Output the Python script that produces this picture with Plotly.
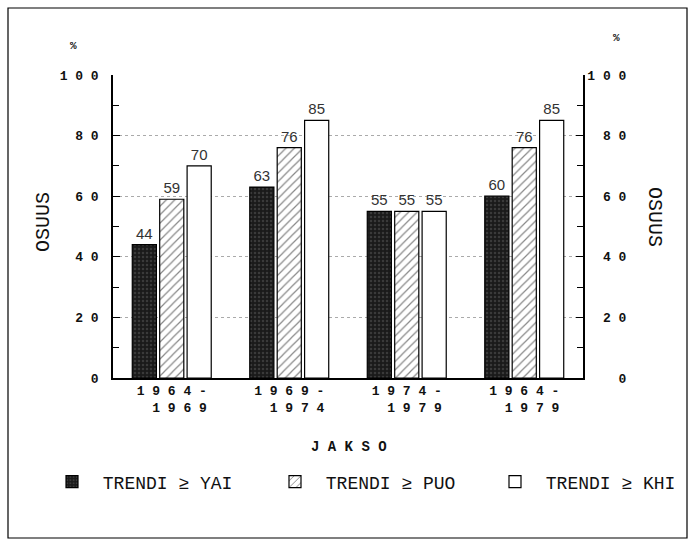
import plotly.graph_objects as go

categories = ["1964-1969", "1969-1974", "1974-1979", "1964-1979"]
tick_labels = ["1 9 6 4 -<br>\u00a0\u00a01 9 6 9", "1 9 6 9 -<br>\u00a0\u00a01 9 7 4",
               "1 9 7 4 -<br>\u00a0\u00a01 9 7 9", "1 9 6 4 -<br>\u00a0\u00a01 9 7 9"]
series_names = ["TRENDI \u2265 YAI", "TRENDI \u2265 PUO", "TRENDI \u2265 KHI"]
yai = [44, 63, 55, 60]
puo = [59, 76, 55, 76]
khi = [70, 85, 55, 85]
y_ticks = [0, 20, 40, 60, 80, 100]
y_left_text = ["0", "2 0", "4 0", "6 0", "8 0", "1 0 0"]
y_right_text = ["\u00a0\u00a0\u00a0\u00a00", "\u00a0\u00a02 0", "\u00a0\u00a04 0",
                "\u00a0\u00a06 0", "\u00a0\u00a08 0", "1 0 0"]

W, H = 691, 542
L, R, T, B = 113, 108, 75, 164
pw, ph = W - L - R, H - T - B

def px(x):
    return (x - L) / pw

def py(y):
    return (H - B - y) / ph

mono = "Liberation Mono"
fig = go.Figure()
fig.add_trace(go.Bar(
    x=categories, y=yai, name="\u00a0" + series_names[0], text=yai, textposition="outside",
    legend="legend",
    marker=dict(color="#1a1a1a", line=dict(color="black", width=1.2),
                pattern=dict(shape=".", fgcolor="#5a5a5a", bgcolor="#1a1a1a", size=4, solidity=0.3)),
))
fig.add_trace(go.Bar(
    x=categories, y=puo, name="\u00a0" + series_names[1], text=puo, textposition="outside",
    legend="legend2",
    marker=dict(color="white", line=dict(color="black", width=1.2),
                pattern=dict(shape="/", fgcolor="#111", bgcolor="white", size=6, solidity=0.2)),
))
fig.add_trace(go.Bar(
    x=categories, y=khi, name="\u00a0" + series_names[2], text=khi, textposition="outside",
    legend="legend3",
    marker=dict(color="white", line=dict(color="black", width=1.2)),
))
fig.update_traces(textfont=dict(family="Liberation Sans", size=15, color="#333"),
                  cliponaxis=False)
# invisible helper so that the right-hand axis is drawn
fig.add_trace(go.Scatter(x=categories, y=khi, yaxis="y2", mode="markers",
                         marker=dict(opacity=0), showlegend=False, hoverinfo="skip"))

legend_common = dict(orientation="h", yanchor="middle", xanchor="left", y=py(482),
                     font=dict(family=mono, size=18, color="#111"),
                     bgcolor="rgba(0,0,0,0)")

fig.update_layout(
    width=W, height=H,
    margin=dict(l=L, r=R, t=T, b=B, autoexpand=False),
    paper_bgcolor="white", plot_bgcolor="white",
    barmode="group", bargap=0.30, bargroupgap=0.12,
    showlegend=True,
    legend=dict(x=px(52), **legend_common),
    legend2=dict(x=px(275), **legend_common),
    legend3=dict(x=px(495), **legend_common),
    xaxis=dict(tickmode="array", tickvals=categories, ticktext=tick_labels,
               showline=True, linecolor="black", linewidth=1.5, ticks="",
               tickfont=dict(family=mono, size=13, color="#111", weight="bold"),
               showgrid=False),
    yaxis=dict(range=[0, 100], tickvals=y_ticks, ticktext=y_left_text,
               showline=True, linecolor="black", linewidth=1.5,
               ticks="inside", ticklen=7, tickcolor="black",
               minor=dict(dtick=10, ticks="inside", ticklen=6, tickcolor="black", showgrid=False),
               ticklabelstandoff=10,
               tickfont=dict(family=mono, size=13, color="#111", weight="bold"),
               showgrid=True, gridcolor="#aaa", griddash="dot", gridwidth=1,
               zeroline=False),
    yaxis2=dict(range=[0, 100], overlaying="y", side="right", tickvals=y_ticks,
                ticktext=y_right_text, showline=True, linecolor="black", linewidth=1.5,
                ticks="inside", ticklen=7, tickcolor="black",
                minor=dict(dtick=10, ticks="inside", ticklen=6, tickcolor="black", showgrid=False),
                ticklabelstandoff=0,
                tickfont=dict(family=mono, size=13, color="#111", weight="bold"),
                showgrid=False, zeroline=False),
)

# outer frame
fig.add_shape(type="rect", xref="paper", yref="paper",
              x0=px(8), x1=px(687), y0=py(538), y1=py(8),
              line=dict(color="black", width=1.2), fillcolor="rgba(0,0,0,0)", layer="below")

def note(text, x, y, **kw):
    fig.add_annotation(text=text, xref="paper", yref="paper", x=px(x), y=py(y),
                       xanchor="center", yanchor="middle", showarrow=False, **kw)

note("%", 73, 46, font=dict(family=mono, size=11, color="#111", weight="bold"))
note("%", 616, 38, font=dict(family=mono, size=11, color="#111", weight="bold"))
note("OSUUS", 43, 222, textangle=-90, font=dict(family=mono, size=20, color="#111"))
note("OSUUS", 655, 217, textangle=90, font=dict(family=mono, size=20, color="#111"))
note("J A K S O", 349, 447, font=dict(family=mono, size=14, color="#111", weight="bold"))

fig.write_html("out.html", config={"displayModeBar": False},
               post_script="document.body.style.margin='0px';")
